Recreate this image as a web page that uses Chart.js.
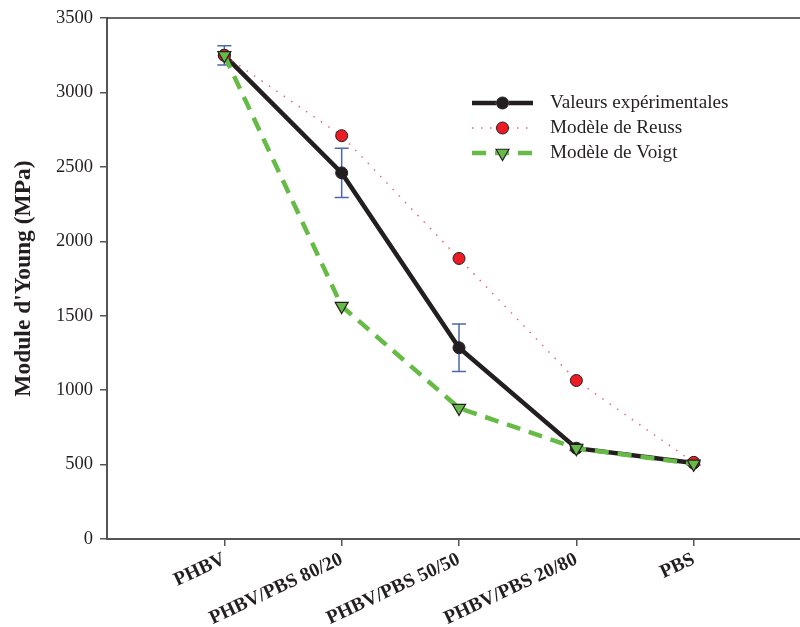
<!DOCTYPE html>
<html>
<head>
<meta charset="utf-8">
<script src="https://cdn.jsdelivr.net/npm/chart.js@4.4.0/dist/chart.umd.min.js"></script>
<style>
  html, body { margin: 0; padding: 0; background: #fff; overflow: hidden; }
  #wrap { width: 808px; height: 627px; }
  canvas { display: block; }
</style>
</head>
<body>
<div id="wrap"><canvas id="grafico"></canvas></div>
<script>
// categories and values
const categorias = ['PHBV', 'PHBV/PBS 80/20', 'PHBV/PBS 50/50', 'PHBV/PBS 20/80', 'PBS'];
const experimentais = [3250, 2460, 1285, 610, 510];
const erros = [65, 165, 160, 15, 12];
const reuss = [3250, 2710, 1885, 1065, 515];
const voigt = [3250, 1565, 880, 610, 505];
const yTicks = [0, 500, 1000, 1500, 2000, 2500, 3000, 3500];

const serif = "'Liberation Serif', 'Times New Roman', serif";
const txt = '#231f20';

function pontos(vals) {
  return vals.map((v, i) => ({ x: i, y: v }));
}

// error bars, drawn under the markers
const barrasErro = {
  id: 'barrasErro',
  beforeDatasetsDraw(chart) {
    const { ctx, scales: { x, y } } = chart;
    ctx.save();
    ctx.strokeStyle = '#4a68ad';
    ctx.lineWidth = 1.5;
    experimentais.forEach((v, i) => {
      const px = x.getPixelForValue(i);
      const top = y.getPixelForValue(v + erros[i]);
      const bot = y.getPixelForValue(v - erros[i]);
      ctx.beginPath();
      ctx.moveTo(px, top); ctx.lineTo(px, bot);
      ctx.moveTo(px - 7, top); ctx.lineTo(px + 7, top);
      ctx.moveTo(px - 7, bot); ctx.lineTo(px + 7, bot);
      ctx.stroke();
    });
    ctx.restore();
  }
};

// top frame line + legend inside the plot
const moldura = {
  id: 'moldura',
  afterDraw(chart) {
    const { ctx, chartArea } = chart;
    ctx.save();
    ctx.strokeStyle = '#333';
    ctx.lineWidth = 1.5;
    ctx.beginPath();
    ctx.moveTo(chartArea.left, chartArea.top);
    ctx.lineTo(chart.width, chartArea.top);
    ctx.stroke();

    const x0 = 472, x1 = 533, tx = 550;
    const rows = [103, 128, 153];
    chart.data.datasets.forEach((ds, i) => {
      const yy = rows[i];
      ctx.save();
      ctx.strokeStyle = ds.borderColor;
      ctx.lineWidth = ds.borderWidth;
      ctx.setLineDash(ds.borderDash || []);
      ctx.beginPath();
      ctx.moveTo(x0, yy); ctx.lineTo(x1, yy);
      ctx.stroke();
      ctx.restore();
      const opts = {
        pointStyle: ds.pointStyle,
        radius: ds.pointRadius,
        borderWidth: ds.pointBorderWidth,
        rotation: ds.pointRotation || 0
      };
      ctx.save();
      ctx.fillStyle = '#fff';
      ctx.strokeStyle = '#fff';
      Chart.helpers.drawPoint(ctx, opts, (x0 + x1) / 2, yy);
      ctx.fillStyle = ds.pointBackgroundColor;
      ctx.strokeStyle = ds.pointBorderColor;
      ctx.lineWidth = ds.pointBorderWidth;
      Chart.helpers.drawPoint(ctx, opts, (x0 + x1) / 2, yy);
      ctx.restore();
      ctx.fillStyle = txt;
      ctx.font = '19.2px ' + serif;
      ctx.textBaseline = 'middle';
      ctx.fillText(ds.label, tx, yy);
    });
    ctx.restore();
  }
};

const ctx = document.getElementById('grafico').getContext('2d');

const grafico = new Chart(ctx, {
  type: 'line',
  data: {
    datasets: [{
      label: 'Valeurs expérimentales',
      data: pontos(experimentais),
      borderColor: '#231f20',
      borderWidth: 4.5,
      pointStyle: 'circle',
      pointRadius: 6,
      pointBackgroundColor: '#231f20',
      pointBorderColor: '#231f20',
      pointBorderWidth: 1,
      order: 3
    }, {
      label: 'Modèle de Reuss',
      data: pontos(reuss),
      borderColor: '#f0607a',
      borderWidth: 1.5,
      borderDash: [1.5, 7.5],
      pointStyle: 'circle',
      pointRadius: 6,
      pointBackgroundColor: '#ed1c24',
      pointBorderColor: '#231f20',
      pointBorderWidth: 1,
      order: 2
    }, {
      label: 'Modèle de Voigt',
      data: pontos(voigt),
      borderColor: '#66bb46',
      borderWidth: 4.5,
      borderDash: [14, 9],
      pointStyle: 'triangle',
      pointRotation: 180,
      pointRadius: 7.5,
      pointBackgroundColor: '#66bb46',
      pointBorderColor: '#231f20',
      pointBorderWidth: 1.2,
      order: 1
    }]
  },
  options: {
    responsive: true,
    maintainAspectRatio: false,
    animation: false,
    layout: { padding: { top: 17, right: 0, left: 10, bottom: 0 } },
    plugins: {
      legend: { display: false },
      tooltip: { enabled: false }
    },
    scales: {
      x: {
        type: 'linear',
        min: -1,
        max: 4.9,
        afterBuildTicks(scale) {
          scale.ticks = categorias.map((c, i) => ({ value: i }));
        },
        afterFit(scale) {
          scale.height = 88;
          scale.paddingRight = 0;
          scale.paddingLeft = 0;
        },
        grid: { drawOnChartArea: false, tickLength: 7, color: '#555', lineWidth: 1.5 },
        border: { color: '#555', width: 2 },
        ticks: {
          autoSkip: false,
          minRotation: 25,
          maxRotation: 25,
          padding: 2,
          color: txt,
          font: { family: serif, size: 19.5, weight: 'bold' },
          callback: (v) => categorias[v]
        }
      },
      y: {
        min: 0,
        max: 3500,
        afterBuildTicks(scale) {
          scale.ticks = yTicks.map(v => ({ value: v }));
        },
        afterFit(scale) { scale.width = 97; },
        grid: { drawOnChartArea: false, tickLength: 7, color: '#555', lineWidth: 1.5 },
        border: { color: '#555', width: 2 },
        title: {
          display: true,
          text: "Module d'Young (MPa)",
          color: txt,
          font: { family: serif, size: 23.5, weight: 'bold' },
          padding: { top: 0, bottom: 6 }
        },
        ticks: {
          padding: 7,
          color: txt,
          font: { family: serif, size: 18.5 },
          callback: (v) => String(v)
        }
      }
    }
  },
  plugins: [barrasErro, moldura]
});
</script>
</body>
</html>
